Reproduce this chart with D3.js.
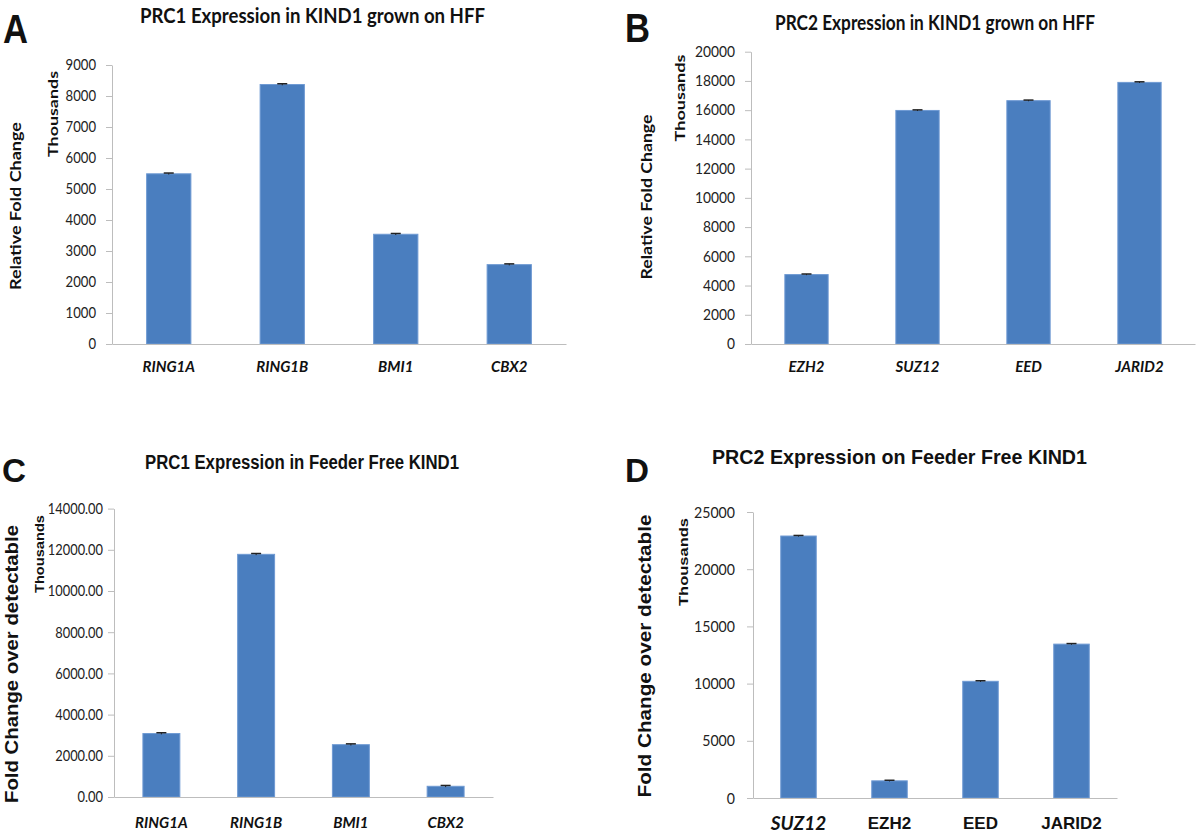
<!DOCTYPE html>
<html><head><meta charset="utf-8">
<script src="https://cdn.jsdelivr.net/npm/d3@7"></script>
<style>
html,body{margin:0;padding:0;background:#fff;}
svg{display:block;}
</style></head>
<body>
<svg id="chart" width="1200" height="834"></svg>
<script>
// ---------- data ----------
const catsA = ["RING1A", "RING1B", "BMI1", "CBX2"];
const valsA = [5490, 8370, 3540, 2560];
const errA  = [25, 25, 25, 25];
const ticksA = [0, 1000, 2000, 3000, 4000, 5000, 6000, 7000, 8000, 9000];

const catsB = ["EZH2", "SUZ12", "EED", "JARID2"];
const valsB = [4750, 15980, 16650, 17900];
const errB  = [40, 40, 40, 40];
const ticksB = [0, 2000, 4000, 6000, 8000, 10000, 12000, 14000, 16000, 18000, 20000];

const catsC = ["RING1A", "RING1B", "BMI1", "CBX2"];
const valsC = [3080, 11780, 2540, 520];
const errC  = [40, 40, 40, 40];
const ticksC = [0, 2000, 4000, 6000, 8000, 10000, 12000, 14000];

const catsD = ["SUZ12", "EZH2", "EED", "JARID2"];
const valsD = [22900, 1500, 10200, 13450];
const errD  = [50, 50, 50, 50];
const ticksD = [0, 5000, 10000, 15000, 20000, 25000];

const titles = [
  "PRC1 Expression in KIND1 grown on HFF",
  "PRC2 Expression in KIND1 grown on HFF",
  "PRC1 Expression in Feeder Free KIND1",
  "PRC2 Expression on Feeder Free KIND1"
];
const panelLetters = ["A", "B", "C", "D"];

// ---------- drawing ----------
const svg = d3.select("#chart");
const BAR = "#4a7ebf", BARSTROKE = "#6f9ad3", AXIS = "#bdbdbd";
const CAL = "Lato, 'Open Sans', sans-serif";
const ARI = "'Liberation Sans', Arial, sans-serif";

function txt(x, y, s, o) {
  const t = svg.append("text").attr("x", x).attr("y", y).text(s)
    .attr("font-family", o.family || ARI)
    .attr("font-size", o.size)
    .attr("font-weight", o.weight || "bold")
    .attr("font-style", o.style || "normal")
    .attr("fill", "#111")
    .attr("text-anchor", o.anchor || "start");
  if (o.len) t.attr("textLength", o.len).attr("lengthAdjust", "spacingAndGlyphs");
  if (o.rot) t.attr("transform", `rotate(-90,${x},${y})`);
  return t;
}

function panel(o) {
  const g = svg.append("g");
  const x = d3.scaleBand().domain(o.cats).range([o.x0, o.x1])
    .paddingInner(0.61).paddingOuter(0.305);
  const y = d3.scaleLinear().domain([0, o.max]).range([o.y0, o.yTop]);

  // y axis
  const ya = g.append("g").attr("transform", `translate(${o.x0},0)`)
    .call(d3.axisLeft(y).tickValues(o.ticks).tickSize(6).tickSizeOuter(0)
      .tickPadding(o.tickPad).tickFormat(o.fmt));
  ya.select(".domain").attr("stroke", AXIS);
  ya.selectAll(".tick line").attr("stroke", AXIS);
  ya.selectAll(".tick text").attr("font-family", o.tickFamily || CAL)
    .attr("font-size", o.tickSize).attr("fill", "#222");
  if (o.tickCharW) {
    ya.selectAll(".tick text").each(function () {
      const s = d3.select(this).text();
      const w = s.split("").reduce((a, c) => a + (c === "." ? o.tickCharW * 0.45 : o.tickCharW), 0);
      d3.select(this).attr("textLength", w).attr("lengthAdjust", "spacingAndGlyphs");
    });
  }

  // bars
  g.selectAll("rect.bar").data(o.vals).join("rect").attr("class", "bar")
    .attr("x", (d, i) => x(o.cats[i]))
    .attr("width", x.bandwidth())
    .attr("y", d => y(d))
    .attr("height", d => y(0) - y(d))
    .attr("fill", BAR).attr("stroke", BARSTROKE).attr("stroke-width", 1);

  // error bars
  const eb = g.selectAll("g.err").data(o.vals).join("g").attr("class", "err");
  eb.append("line")
    .attr("x1", (d, i) => x(o.cats[i]) + x.bandwidth() / 2)
    .attr("x2", (d, i) => x(o.cats[i]) + x.bandwidth() / 2)
    .attr("y1", (d, i) => y(d - o.errs[i])).attr("y2", (d, i) => y(d + o.errs[i]))
    .attr("stroke", "#222").attr("stroke-width", 1);
  eb.append("line")
    .attr("x1", (d, i) => x(o.cats[i]) + x.bandwidth() / 2 - 5)
    .attr("x2", (d, i) => x(o.cats[i]) + x.bandwidth() / 2 + 5)
    .attr("y1", (d, i) => y(d + o.errs[i])).attr("y2", (d, i) => y(d + o.errs[i]))
    .attr("stroke", "#222").attr("stroke-width", 1.5);

  // x axis
  const xa = g.append("g").attr("transform", `translate(0,${o.y0})`)
    .call(d3.axisBottom(x).tickSize(0).tickSizeOuter(0).tickPadding(o.catPad));
  xa.select(".domain").attr("stroke", AXIS);
  xa.selectAll(".tick text").each(function (d, i) {
    const s = o.catStyle(d, i);
    d3.select(this).attr("font-family", s.family).attr("font-size", s.size)
      .attr("font-weight", "bold").attr("font-style", s.style).attr("fill", "#111");
    if (s.len) d3.select(this).attr("textLength", s.len).attr("lengthAdjust", "spacingAndGlyphs");
  });
}

// Panel A
panel({
  cats: catsA, vals: valsA, errs: errA, ticks: ticksA, max: 9000,
  x0: 112, x1: 566, y0: 344, yTop: 65,
  tickPad: 10, tickSize: 15, fmt: d3.format("d"), tickCharW: 7.6,
  catPad: 17,
  catStyle: () => ({ family: CAL, size: 15, style: "italic" })
});
// Panel B
panel({
  cats: catsB, vals: valsB, errs: errB, ticks: ticksB, max: 20000,
  x0: 751, x1: 1195, y0: 344, yTop: 51.7,
  tickPad: 10, tickSize: 15, fmt: d3.format("d"), tickCharW: 8,
  catPad: 17,
  catStyle: () => ({ family: CAL, size: 15, style: "italic" })
});
// Panel C
panel({
  cats: catsC, vals: valsC, errs: errC, ticks: ticksC, max: 14000,
  x0: 114, x1: 493, y0: 797, yTop: 508.6,
  tickPad: 5, tickSize: 15, fmt: d3.format(".2f"), tickCharW: 7.4,
  catPad: 20,
  catStyle: () => ({ family: CAL, size: 15, style: "italic" })
});
// Panel D
panel({
  cats: catsD, vals: valsD, errs: errD, ticks: ticksD, max: 25000,
  x0: 753, x1: 1117, y0: 798, yTop: 512,
  tickPad: 12, tickSize: 16, fmt: d3.format("d"), tickCharW: 8.2,
  catPad: 19,
  catStyle: (d, i) => i === 0 ? { family: CAL, size: 19, style: "italic" }
                              : { family: ARI, size: 17, style: "normal" }
});

// Panel letters
txt(3, 43, panelLetters[0], { size: 40, len: 25 });
txt(625, 42, panelLetters[1], { size: 40, len: 25 });
txt(2, 482, panelLetters[2], { size: 34, len: 24 });
txt(625, 482, panelLetters[3], { size: 34, len: 24 });

// Titles
txt(140, 23, titles[0], { family: CAL, size: 21, len: 345 });
txt(775, 30, titles[1], { family: CAL, size: 21, len: 320 });
txt(145, 469, titles[2], { family: ARI, size: 20, len: 314 });
txt(712, 464, titles[3], { family: ARI, size: 21, len: 375 });

// Axis titles
txt(21, 206, "Relative Fold  Change", { family: CAL, size: 15, anchor: "middle", rot: true, len: 168 });
txt(58, 114, "Thousands", { family: CAL, size: 14, anchor: "middle", rot: true, len: 86 });
txt(652, 197, "Relative Fold Change", { family: CAL, size: 15, anchor: "middle", rot: true, len: 165 });
txt(685, 98, "Thousands", { family: CAL, size: 14, anchor: "middle", rot: true, len: 87 });
txt(18, 664, "Fold Change over detectable", { family: ARI, size: 18, anchor: "middle", rot: true, len: 278 });
txt(44, 554, "Thousands", { family: ARI, size: 12, anchor: "middle", rot: true, len: 78 });
txt(651, 656, "Fold Change over detectable", { family: ARI, size: 18, anchor: "middle", rot: true, len: 283 });
txt(688, 562, "Thousands", { family: ARI, size: 13, anchor: "middle", rot: true, len: 88 });
</script>
</body></html>
